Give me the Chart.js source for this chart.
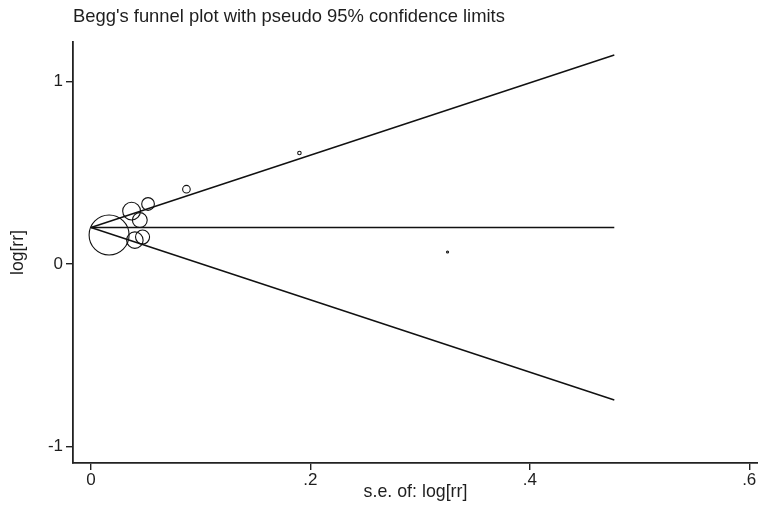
<!DOCTYPE html>
<html>
<head>
<meta charset="utf-8">
<script src="https://cdn.jsdelivr.net/npm/chart.js@4.4.1/dist/chart.umd.min.js"></script>
<style>
  html, body { margin: 0; padding: 0; background: #fff; }
  #wrap { width: 758px; height: 508px; }
</style>
</head>
<body>
<div id="wrap"><canvas id="funnel"></canvas></div>
<script>
// studies: standard error of log[rr] and log[rr]
var studySe    = [0.0165, 0.037, 0.052, 0.0445, 0.040, 0.047, 0.087, 0.190, 0.325];
var studyLogRr = [0.159, 0.290, 0.329, 0.241, 0.131, 0.148, 0.410, 0.608, 0.066];

// pseudo 95% confidence limits (se, upper, lower) and pooled estimate
var limitSe    = [0, 0.477];
var limitUpper = [0.2, 1.145];
var limitLower = [0.2, -0.745];
var pooled     = [0.2, 0.2];

var xTicks = [0, 0.2, 0.4, 0.6];
var yTicks = [-1, 0, 1];

var font = "'Liberation Sans', Arial, sans-serif";
var ink = '#1e1e1e';

function pairs(xs, ys) {
    return xs.map(function (x, i) { return { x: x, y: ys[i] }; });
}

function lineSet(ys) {
    return {
        type: 'scatter',
        data: pairs(limitSe, ys),
        showLine: true,
        borderColor: '#111',
        borderWidth: 1.5,
        pointRadius: 0,
        pointHoverRadius: 0
    };
}

var ctx = document.getElementById('funnel').getContext('2d');
var chart = new Chart(ctx, {
    type: 'scatter',
    data: {
        datasets: [
            {
                label: 'studies',
                data: pairs(studySe, studyLogRr),
                pointStyle: 'circle',
                // marker area follows weight 1/se^2
                pointRadius: function (c) {
                    var se = studySe[c.dataIndex];
                    return Math.max(1, 0.33 / se);
                },
                backgroundColor: 'rgba(0,0,0,0)',
                borderColor: '#111',
                borderWidth: 1.1,
                clip: false
            },
            lineSet(limitUpper),
            lineSet(limitLower),
            lineSet(pooled)
        ]
    },
    options: {
        responsive: true,
        maintainAspectRatio: false,
        animation: false,
        layout: { autoPadding: false, padding: 0 },
        plugins: {
            legend: { display: false },
            tooltip: { enabled: false },
            title: {
                display: true,
                text: "Begg's funnel plot with pseudo 95% confidence limits",
                align: 'start',
                fullSize: false,
                color: ink,
                font: { family: font, size: 18.4, weight: 'normal', lineHeight: 1.2 },
                padding: { top: 6, bottom: 14 }
            }
        },
        scales: {
            x: {
                type: 'linear',
                min: -0.0164,
                max: 0.608,
                afterBuildTicks: function (s) {
                    s.ticks = xTicks.map(function (v) { return { value: v }; });
                },
                afterFit: function (s) {
                    s.height = 45;
                    s.paddingLeft = 0;
                    s.paddingRight = 0;
                },
                ticks: {
                    color: ink,
                    padding: 2,
                    maxRotation: 0,
                    font: { family: font, size: 17, lineHeight: 1 },
                    callback: function (v) {
                        return v === 0 ? '0' : String(v).replace(/^0/, '');
                    }
                },
                grid: {
                    drawOnChartArea: false,
                    drawTicks: true,
                    tickLength: 7,
                    color: '#222',
                    lineWidth: 1.4
                },
                border: { display: true, color: '#222', width: 1.8 },
                title: {
                    display: true,
                    text: 's.e. of: log[rr]',
                    color: ink,
                    font: { family: font, size: 17.8, lineHeight: 1.2 },
                    padding: { top: 0, bottom: 5 }
                }
            },
            y: {
                type: 'linear',
                min: -1.09,
                max: 1.216,
                afterBuildTicks: function (s) {
                    s.ticks = yTicks.map(function (v) { return { value: v }; });
                },
                afterFit: function (s) {
                    s.width = 73;
                    s.paddingTop = 0;
                    s.paddingBottom = 0;
                },
                ticks: {
                    color: ink,
                    padding: 3,
                    font: { family: font, size: 17, lineHeight: 1 }
                },
                grid: {
                    drawOnChartArea: false,
                    drawTicks: true,
                    tickLength: 7,
                    color: '#222',
                    lineWidth: 1.4
                },
                border: { display: true, color: '#222', width: 1.8 },
                title: {
                    display: true,
                    text: 'log[rr]',
                    color: ink,
                    font: { family: font, size: 17.6, lineHeight: 1.2 },
                    padding: { top: 8, bottom: 0 }
                }
            }
        }
    }
});
</script>
</body>
</html>
